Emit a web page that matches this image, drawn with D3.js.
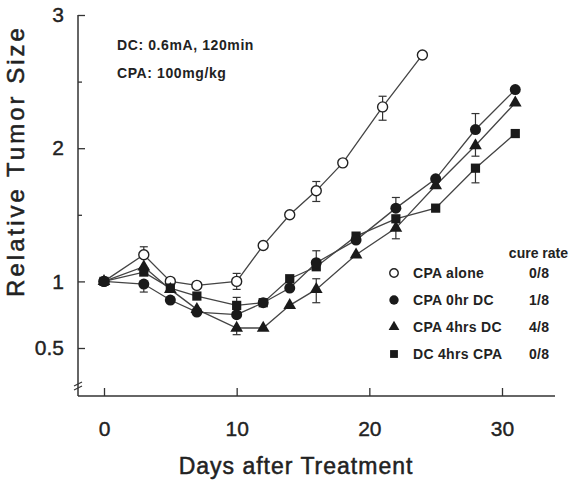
<!DOCTYPE html>
<html>
<head>
<meta charset="utf-8">
<script src="https://cdn.jsdelivr.net/npm/d3@7"></script>
<style>
  body { margin: 0; background: #fff; }
  text { font-family: "Liberation Sans", Arial, Helvetica, sans-serif; fill: #222; }
</style>
</head>
<body>
<script>
// Data
const days = [0, 3, 5, 7, 10, 12, 14, 16, 19, 22, 25, 28, 31];
const daysAlone = [0, 3, 5, 7, 10, 12, 14, 16, 18, 21, 24];

const cpaAlone = [1.0, 1.20, 1.0, 0.97, 1.0, 1.27, 1.50, 1.68, 1.89, 2.31, 2.70];
const cpa0hrDC = [1.0, 0.98, 0.86, 0.77, 0.75, 0.84, 0.95, 1.14, 1.31, 1.55, 1.77, 2.14, 2.44];
const cpa4hrsDC = [1.0, 1.11, 0.94, 0.79, 0.65, 0.65, 0.82, 0.94, 1.20, 1.40, 1.72, 2.02, 2.34];
const dc4hrsCPA = [1.0, 1.07, 0.95, 0.89, 0.82, 0.84, 1.02, 1.11, 1.34, 1.47, 1.55, 1.85, 2.11];

// error bars: [day, centre, upper end, lower end]
const errAlone = [[3, 1.20, 1.26, null], [10, 1.0, 1.06, 0.94], [16, 1.68, 1.75, 1.60], [21, 2.31, 2.39, 2.21]];
const err0hr = [[3, 0.98, null, 0.92], [16, 1.14, 1.23, null], [22, 1.55, 1.63, null], [28, 2.14, 2.26, null]];
const err4hrs = [[10, 0.65, null, 0.60], [16, 0.94, 1.02, 0.84], [22, 1.40, null, 1.32], [28, 2.02, null, 1.94]];
const errDc = [[10, 0.82, 0.88, null], [28, 1.85, null, 1.74]];

const legendNames = ['CPA alone', 'CPA 0hr DC', 'CPA 4hrs DC', 'DC 4hrs CPA'];
const cureRates = ['0/8', '1/8', '4/8', '0/8'];
const xTicks = [0, 10, 20, 30];
const yTicks = [0.5, 1, 2, 3];
const yMinor = [1.5, 2.5];

const width = 571;
const height = 481;

const svg = d3.select('body').append('svg').attr('width', width).attr('height', height);

const x = d3.scaleLinear().domain([0, 30]).range([104, 502]);
const y = d3.scaleLinear().domain([0.5, 3]).range([348, 15]);

const axisX0 = 78;
const axisY0 = 396;
const ink = '#333';

// axes lines
svg.append('line')
  .attr('x1', axisX0).attr('x2', axisX0)
  .attr('y1', y(3)).attr('y2', axisY0)
  .attr('stroke', ink).attr('stroke-width', 1.5);
svg.append('line')
  .attr('x1', axisX0).attr('x2', 555)
  .attr('y1', axisY0).attr('y2', axisY0)
  .attr('stroke', ink).attr('stroke-width', 1.5);

// axis break
svg.append('g')
  .selectAll('line')
  .data([0, 4])
  .join('line')
    .attr('x1', axisX0 - 4).attr('x2', axisX0 + 4)
    .attr('y1', (d) => 386 + d).attr('y2', (d) => 382 + d)
    .attr('stroke', ink).attr('stroke-width', 1.2);

// y axis
const yAxis = svg.append('g')
  .attr('transform', `translate(${axisX0},0)`)
  .call(d3.axisLeft(y).tickValues(yTicks).tickSize(-7).tickPadding(14)
    .tickFormat((d) => (d === 0.5 ? '0.5' : d3.format('d')(d))));
yAxis.select('.domain').remove();
yAxis.selectAll('line').attr('stroke', ink).attr('stroke-width', 1.3);
yAxis.selectAll('text').attr('font-size', 21).attr('fill', '#222')
  .attr('stroke', '#222').attr('stroke-width', 0.4)
  .style('font-family', '"Liberation Sans", Arial, sans-serif');

const yAxisMinor = svg.append('g')
  .attr('transform', `translate(${axisX0},0)`)
  .call(d3.axisLeft(y).tickValues(yMinor).tickSize(-4).tickFormat(''));
yAxisMinor.select('.domain').remove();
yAxisMinor.selectAll('line').attr('stroke', ink).attr('stroke-width', 1.3);

// x axis
const xAxis = svg.append('g')
  .attr('transform', `translate(0,${axisY0})`)
  .call(d3.axisBottom(x).tickValues(xTicks).tickSize(-8).tickPadding(25));
xAxis.select('.domain').remove();
xAxis.selectAll('line').attr('stroke', ink).attr('stroke-width', 1.3);
xAxis.selectAll('text').attr('font-size', 21).attr('fill', '#222')
  .attr('stroke', '#222').attr('stroke-width', 0.4)
  .style('font-family', '"Liberation Sans", Arial, sans-serif');

// axis titles
svg.append('text')
  .attr('x', 296).attr('y', 474)
  .attr('text-anchor', 'middle')
  .attr('font-size', 23)
  .attr('letter-spacing', 1)
  .attr('stroke', '#222').attr('stroke-width', 0.5)
  .text('Days after Treatment');

svg.append('text')
  .attr('transform', 'translate(24,161) rotate(-90)')
  .attr('text-anchor', 'middle')
  .attr('font-size', 24)
  .attr('letter-spacing', 3)
  .attr('stroke', '#222').attr('stroke-width', 0.5)
  .text('Relative Tumor Size');

// annotations
svg.append('text').attr('x', 117).attr('y', 50)
  .attr('font-size', 14).attr('font-weight', 'bold').attr('letter-spacing', 0.6)
  .text('DC: 0.6mA, 120min');
svg.append('text').attr('x', 117).attr('y', 78)
  .attr('font-size', 14).attr('font-weight', 'bold').attr('letter-spacing', 0.6)
  .text('CPA: 100mg/kg');

// series
const series = [
  { xs: daysAlone, ys: cpaAlone, err: errAlone, shape: 'open' },
  { xs: days, ys: dc4hrsCPA, err: errDc, shape: 'square' },
  { xs: days, ys: cpa4hrsDC, err: err4hrs, shape: 'triangle' },
  { xs: days, ys: cpa0hrDC, err: err0hr, shape: 'circle' }
];

const line = d3.line().x((d) => x(d[0])).y((d) => y(d[1]));

const drawMarker = (selection, shape, scale) => {
  if (shape === 'open') {
    selection.append('circle').attr('r', 5 * scale)
      .attr('fill', '#fff').attr('stroke', '#222').attr('stroke-width', 1.4);
  } else if (shape === 'circle') {
    selection.append('circle').attr('r', 5.5 * scale).attr('fill', '#1a1a1a');
  } else if (shape === 'triangle') {
    selection.append('path')
      .attr('d', d3.symbol(d3.symbolTriangle, 70 * scale * scale)())
      .attr('fill', '#1a1a1a');
  } else {
    selection.append('path')
      .attr('d', d3.symbol(d3.symbolSquare, 85 * scale * scale)())
      .attr('fill', '#1a1a1a');
  }
};

// lines
series.forEach((s) => {
  const pts = s.xs.map((d, i) => [d, s.ys[i]]);
  svg.append('path')
    .datum(pts)
    .attr('d', line)
    .attr('fill', 'none')
    .attr('stroke', '#444')
    .attr('stroke-width', 1.3);
});

// error bars
series.forEach((s) => {
  const g = svg.append('g').attr('stroke', '#333').attr('stroke-width', 1.2);
  s.err.forEach((e) => {
    const [day, c, hi, lo] = e;
    const top = hi === null ? c : hi;
    const bot = lo === null ? c : lo;
    g.append('line')
      .attr('x1', x(day)).attr('x2', x(day))
      .attr('y1', y(top)).attr('y2', y(bot));
    [hi, lo].filter((v) => v !== null).forEach((v) => {
      g.append('line')
        .attr('x1', x(day) - 4).attr('x2', x(day) + 4)
        .attr('y1', y(v)).attr('y2', y(v));
    });
  });
});

// markers
series.forEach((s) => {
  s.xs.forEach((d, i) => {
    const g = svg.append('g').attr('transform', `translate(${x(d)},${y(s.ys[i])})`);
    drawMarker(g, s.shape, 1);
  });
});

// legend
svg.append('text').attr('x', 568).attr('y', 258)
  .attr('text-anchor', 'end')
  .attr('font-size', 14).attr('font-weight', 'bold')
  .text('cure rate');

const legendShapes = ['open', 'circle', 'triangle', 'square'];
const legendY = d3.scalePoint().domain(legendNames).range([273, 354]);

const legend = svg.append('g')
  .selectAll('g')
  .data(legendNames)
  .join('g')
    .attr('transform', (d) => `translate(0,${legendY(d)})`);

legend.each(function (d, i) {
  const m = d3.select(this).append('g').attr('transform', 'translate(394,0)');
  drawMarker(m, legendShapes[i], 0.85);
});

legend.append('text')
  .attr('x', 413).attr('dy', '0.35em')
  .attr('font-size', 14).attr('font-weight', 'bold').attr('letter-spacing', 0.3)
  .text((d) => d);

legend.append('text')
  .attr('x', 529).attr('dy', '0.35em')
  .attr('font-size', 14).attr('font-weight', 'bold').attr('letter-spacing', 0.3)
  .text((d, i) => cureRates[i]);
</script>
</body>
</html>
